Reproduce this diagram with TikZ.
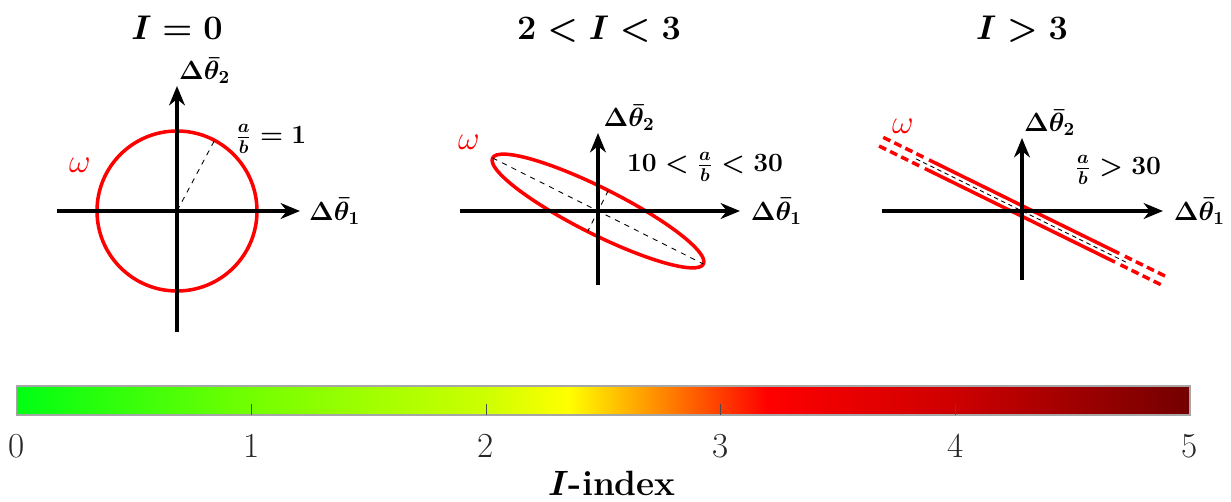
\RequirePackage{fix-cm}
\documentclass[tikz,border=0pt]{standalone}
\usepackage{amsmath}
\usepackage{bm}
\usepackage{tikz}
\usetikzlibrary{arrows.meta, positioning, calc}
\usepackage{xcolor}
\definecolor{cmA}{RGB}{0,255,20}
\definecolor{cmB}{RGB}{115,255,0}
\definecolor{cmC}{RGB}{205,255,0}
\definecolor{cmD}{RGB}{255,255,0}
\definecolor{cmE}{RGB}{255,165,0}
\definecolor{cmF}{RGB}{255,0,0}
\definecolor{cmG}{RGB}{205,0,0}
\definecolor{cmH}{RGB}{115,0,0}
\pgfdeclarehorizontalshading{imap}{100bp}{color(0bp)=(cmA); color(25bp)=(cmA); color(35bp)=(cmB); color(45bp)=(cmC); color(48.5bp)=(cmD); color(51.5bp)=(cmE); color(57bp)=(cmF); color(65bp)=(cmG); color(75bp)=(cmH); color(100bp)=(cmH)}
\tikzstyle{axis} = [line width=1.9pt, -{Stealth[length=11pt, width=9pt, inset=3.5pt]}]
\tikzstyle{curve} = [red, line width=2pt]
\tikzstyle{guide} = [black, line width=0.5pt, dashed]
\tikzstyle{ttl} = [font=\fontsize{19.5}{22}\selectfont\boldmath]
\tikzstyle{lbl} = [font=\fontsize{15}{17}\selectfont\boldmath, inner sep=1pt]
\tikzstyle{ratio} = [font=\fontsize{15}{17}\selectfont\boldmath]
\tikzstyle{omg} = [text=red, font=\fontsize{19}{21}\selectfont]
\tikzstyle{tick} = [line width=0.5pt, black!70]
\tikzstyle{ticklbl} = [font=\fontsize{20}{22}\selectfont, text=black!85]

\begin{document}
\begin{tikzpicture}[x=0.02cm, y=-0.02cm]
  \useasboundingbox (0,0) rectangle (1231,501);

  % I = 0
  \coordinate (o1) at (177,211);
  \coordinate (xa1) at (57,211);
  \coordinate (xb1) at (300,211);
  \coordinate (ya1) at (177,332);
  \coordinate (yb1) at (177,86);
  \draw[curve] (o1) circle [radius=80];
  \draw[guide] (o1) -- ++(-62:80);
  \draw[axis] (xa1) -- (xb1);
  \draw[axis] (ya1) -- (yb1);
  \node[ttl] (t1) at (177,28) {$I=0$};
  \node[lbl, right=4pt of xb1] (lx1) {$\Delta\bar{\theta}_1$};
  \node[lbl, above right=0pt and 0pt of yb1] (ly1) {$\Delta\bar{\theta}_2$};
  \node[omg] (w1) at (80,165) {$\omega$};
  \node[ratio] (r1) at (271,139) {$\frac{a}{b}=1$};

  % 2 < I < 3
  \coordinate (o2) at (598,211);
  \coordinate (xa2) at (460,211);
  \coordinate (xb2) at (740,211);
  \coordinate (ya2) at (598,285);
  \coordinate (yb2) at (598,133);
  \begin{scope}[shift={(o2)}, rotate=-26.7]
    \draw[curve] (0,0) ellipse [x radius=118, y radius=23];
    \draw[guide] (-118,0) -- (118,0);
    \draw[guide] (0,-23) -- (0,23);
  \end{scope}
  \draw[axis] (xa2) -- (xb2);
  \draw[axis] (ya2) -- (yb2);
  \node[ttl] (t2) at (599,29) {$2<I<3$};
  \node[lbl, right=5pt of xb2] (lx2) {$\Delta\bar{\theta}_1$};
  \node[lbl, above right=0pt and 2pt of yb2] (ly2) {$\Delta\bar{\theta}_2$};
  \node[omg] (w2) at (469,142) {$\omega$};
  \node[ratio] (r2) at (705,167) {$10<\frac{a}{b}<30$};

  % I > 3
  \coordinate (o3) at (1022,211);
  \coordinate (xa3) at (882,211);
  \coordinate (xb3) at (1163,211);
  \coordinate (ya3) at (1022,280);
  \coordinate (yb3) at (1022,138);
  \begin{scope}[shift={(o3)}, rotate=-26.2]
    \draw[guide, dash pattern=on 2.5pt off 2pt] (-118,0) -- (118,0);
    \foreach \s in {-4.8,4.8} {
      \draw[curve] (-106,\s) -- (106,\s);
      \draw[curve, dash pattern=on 4.5pt off 2.5pt] (-157,\s) -- (-108,\s);
      \draw[curve, dash pattern=on 4.5pt off 2.5pt] (157,\s) -- (108,\s);
    }
  \end{scope}
  \draw[axis] (xa3) -- (xb3);
  \draw[axis] (ya3) -- (yb3);
  \node[ttl] (t3) at (1022,29) {$I>3$};
  \node[lbl, right=5pt of xb3] (lx3) {$\Delta\bar{\theta}_1$};
  \node[lbl, above right=0pt and 0pt of yb3] (ly3) {$\Delta\bar{\theta}_2$};
  \node[omg] (w3) at (903,126) {$\omega$};
  \node[ratio] (r3) at (1118,170) {$\frac{a}{b}>30$};

  % colorbar
  \coordinate (cbl) at (16.7,415);
  \coordinate (cbr) at (1190,386);
  \shade[shading=imap] (cbl) rectangle (cbr);
  \draw[gray!70, line width=0.6pt] (cbl) rectangle (cbr);
  \foreach \k in {1,...,4}
    \draw[tick] (16.7+234.66*\k,415) -- ++(0,-11);
  \foreach \k in {0,...,5}
    \node[ticklbl] (n\k) at (16.7+234.66*\k,446) {\k};
  \node[font=\fontsize{20}{22}\selectfont] (cbt) at (612,483) {$\bm{I}$\textbf{-index}};
\end{tikzpicture}
\end{document}
